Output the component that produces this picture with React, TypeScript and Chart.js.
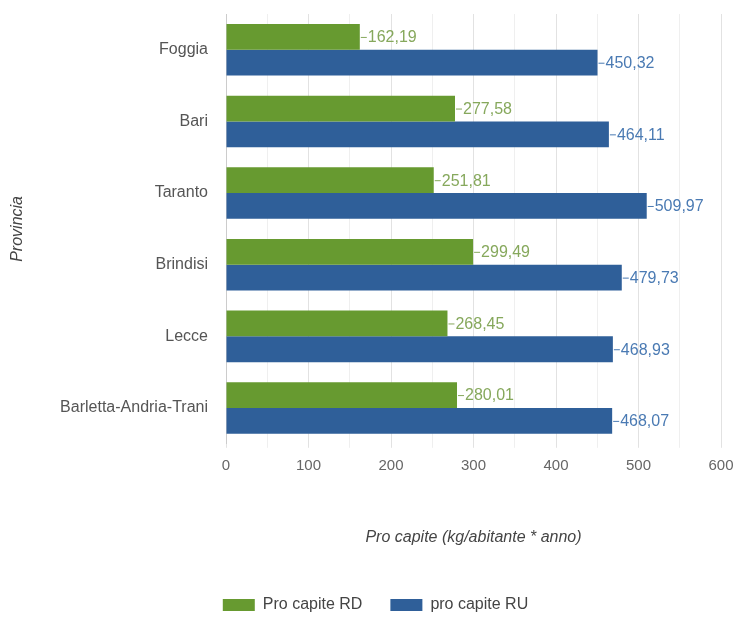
import React, { useEffect, useRef } from "react";
import { Chart, registerables } from "chart.js";

Chart.register(...registerables);

const categories = ["Foggia", "Bari", "Taranto", "Brindisi", "Lecce", "Barletta-Andria-Trani"];
const rdValues = [162.19, 277.58, 251.81, 299.49, 268.45, 280.01];
const ruValues = [450.32, 464.11, 509.97, 479.73, 468.93, 468.07];
const seriesNames = ["Pro capite RD", "pro capite RU"];
const xMin = 0;
const xMax = 600;
const xStep = 50;
const xLabelStep = 100;

const FONT = "'Liberation Sans', Arial, sans-serif";
const GREEN = "#679a30";
const BLUE = "#2f5f99";
const GREEN_LABEL = "#86a85c";
const BLUE_LABEL = "#4a7ab3";

const fmt = (v: number) => v.toFixed(2).replace(".", ",");

const valueLabels = {
  id: "valueLabels",
  afterDatasetsDraw(chart: any) {
    const ctx = chart.ctx;
    ctx.save();
    ctx.font = `16px ${FONT}`;
    ctx.textBaseline = "middle";
    ctx.textAlign = "left";
    chart.data.datasets.forEach((ds: any, di: number) => {
      const meta = chart.getDatasetMeta(di);
      const color = di === 0 ? GREEN_LABEL : BLUE_LABEL;
      meta.data.forEach((el: any, i: number) => {
        const x = el.x;
        const y = el.y;
        ctx.strokeStyle = color;
        ctx.lineWidth = 1;
        ctx.beginPath();
        ctx.moveTo(x + 1, y + 0.5);
        ctx.lineTo(x + 7, y + 0.5);
        ctx.stroke();
        ctx.fillStyle = color;
        ctx.fillText(fmt(ds.data[i]), x + 8, y + 1);
      });
    });
    ctx.restore();
  },
};

const PAD_LEFT = 30;

export default function App() {
  const ref = useRef<HTMLCanvasElement | null>(null);
  useEffect(() => {
    if (!ref.current) return;
    const chart = new Chart(ref.current, {
      type: "bar",
      data: {
        labels: categories,
        datasets: [
          { label: seriesNames[0], data: rdValues, backgroundColor: GREEN, borderWidth: 0 },
          { label: seriesNames[1], data: ruValues, backgroundColor: BLUE, borderWidth: 0 },
        ],
      },
      options: {
        indexAxis: "y",
        animation: false,
        responsive: false,
        devicePixelRatio: 1,
        categoryPercentage: 0.72,
        barPercentage: 1,
        layout: { padding: { top: 14, right: 16, left: PAD_LEFT, bottom: 0 } },
        plugins: {
          tooltip: { enabled: false },
          legend: {
            position: "bottom",
            labels: {
              boxWidth: 32,
              boxHeight: 12,
              padding: 28,
              color: "#444",
              font: { family: FONT, size: 16 },
            },
          },
        },
        scales: {
          x: {
            min: xMin,
            max: xMax,
            border: { display: false },
            grid: {
              color: (c: any) => (c.tick && c.tick.value % xLabelStep === 0 ? "#e2e2e2" : "#efefef"),
              tickLength: 4,
            },
            ticks: {
              stepSize: xStep,
              padding: 9,
              color: "#666",
              font: { family: FONT, size: 15 },
              callback: (v: any) => (Number(v) % xLabelStep === 0 ? String(v) : ""),
            },
            title: {
              display: true,
              text: "Pro capite (kg/abitante * anno)",
              color: "#444",
              font: { family: FONT, size: 16, style: "italic" },
              padding: { top: 44, bottom: 22 },
            },
            afterFit: (scale: any) => {
              scale.paddingLeft = 0;
              scale.paddingRight = 0;
            },
          },
          y: {
            border: { display: true, color: "#cccccc" },
            grid: { display: false, drawTicks: false },
            ticks: {
              padding: 18,
              color: "#555",
              font: { family: FONT, size: 16 },
            },
            title: {
              display: true,
              text: "Provincia",
              color: "#444",
              font: { family: FONT, size: 16, style: "italic" },
              padding: { top: 8 - PAD_LEFT, bottom: 0 },
            },
            afterFit: (scale: any) => {
              scale.width = 226 - PAD_LEFT;
              scale.paddingTop = 0;
              scale.paddingBottom = 0;
            },
          },
        },
      } as any,
      plugins: [valueLabels],
    });
    return () => chart.destroy();
  }, []);
  return (
    <div style={{ position: "absolute", left: 0, top: 0, width: 737, height: 617, overflow: "hidden", background: "#fff" }}>
      <canvas ref={ref} width={737} height={623} style={{ display: "block" }} />
    </div>
  );
}
